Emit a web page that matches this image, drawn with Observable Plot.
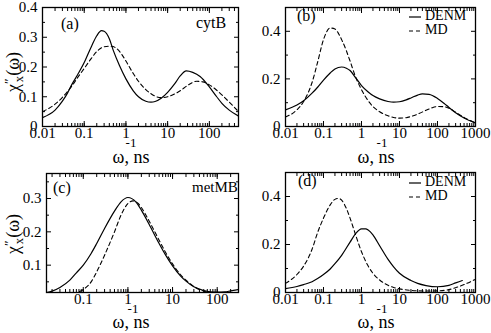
<!DOCTYPE html>
<html><head><meta charset="utf-8">
<script src="https://cdn.jsdelivr.net/npm/d3@7"></script>
<script src="https://cdn.jsdelivr.net/npm/@observablehq/plot@0.6"></script>
<style>
body{margin:0;background:#fff;}
#wrap{position:relative;width:491px;height:333px;font-family:"Liberation Serif","Times New Roman",serif;color:#000;overflow:hidden;}
.panel{position:absolute;}
.lbl{position:absolute;white-space:nowrap;line-height:1;}
</style></head><body><div id="wrap"></div>
<script>
// ---------- data ----------
// (a) cytB
const omegaA_DENM = [0.01,0.02,0.03,0.04,0.05,0.07,0.1,0.15,0.2,0.26,0.3,0.4,0.5,0.7,1,1.5,2,3,4,5,7,10,15,20,28,40,60,100,150,200,300,500];
const chiA_DENM   = [0.030,0.055,0.085,0.113,0.14,0.175,0.215,0.27,0.305,0.322,0.32,0.295,0.255,0.205,0.16,0.12,0.10,0.085,0.082,0.084,0.095,0.115,0.145,0.17,0.187,0.182,0.168,0.133,0.10,0.078,0.055,0.035];
const omegaA_MD   = [0.01,0.02,0.03,0.04,0.05,0.07,0.1,0.15,0.2,0.3,0.45,0.6,0.8,1,1.5,2,3,4,5,7,10,15,20,30,50,70,100,150,200,300,500];
const chiA_MD     = [0.05,0.075,0.098,0.118,0.135,0.165,0.195,0.23,0.252,0.268,0.27,0.262,0.242,0.22,0.178,0.152,0.124,0.11,0.102,0.097,0.10,0.11,0.12,0.138,0.152,0.15,0.14,0.122,0.106,0.082,0.05];
// (b)
const omegaB_DENM = [0.01,0.02,0.03,0.05,0.07,0.1,0.15,0.2,0.3,0.4,0.5,0.7,1,1.5,2,3,5,7,10,15,20,30,40,60,100,150,200,300,500,1000];
const chiB_DENM   = [0.07,0.09,0.108,0.14,0.165,0.195,0.225,0.242,0.25,0.245,0.235,0.205,0.172,0.145,0.13,0.116,0.105,0.102,0.104,0.112,0.12,0.132,0.137,0.135,0.118,0.097,0.08,0.058,0.036,0.015];
const omegaB_MD   = [0.01,0.02,0.03,0.05,0.07,0.1,0.15,0.2,0.25,0.3,0.4,0.5,0.7,1,1.5,2,3,5,7,10,15,20,30,50,70,100,150,200,300,500,1000];
const chiB_MD     = [0.04,0.07,0.105,0.185,0.27,0.365,0.414,0.41,0.39,0.365,0.318,0.275,0.208,0.155,0.108,0.084,0.062,0.045,0.038,0.035,0.037,0.042,0.052,0.068,0.078,0.084,0.083,0.077,0.06,0.038,0.015];
// (c) metMB
const omegaC_DENM = [0.015,0.02,0.03,0.05,0.07,0.1,0.15,0.2,0.3,0.5,0.7,1,1.5,2,3,5,7,10,15,20,30,50,70,100,150,200,300];
const chiC_DENM   = [0.018,0.022,0.033,0.055,0.077,0.10,0.135,0.165,0.21,0.262,0.29,0.303,0.29,0.265,0.222,0.165,0.13,0.098,0.068,0.052,0.035,0.024,0.02,0.019,0.02,0.023,0.027];
const omegaC_MD   = [0.02,0.05,0.08,0.1,0.15,0.2,0.3,0.5,0.7,1,1.3,1.7,2,3,5,7,10,15,20,30,50,70,100,150,200,300];
const chiC_MD     = [0.005,0.012,0.02,0.027,0.05,0.08,0.13,0.2,0.25,0.285,0.293,0.285,0.273,0.232,0.175,0.138,0.104,0.072,0.055,0.036,0.022,0.017,0.014,0.013,0.013,0.014];
// (d)
const omegaD_DENM = [0.01,0.02,0.03,0.05,0.07,0.1,0.15,0.2,0.3,0.5,0.7,1,1.3,1.5,2,3,5,7,10,20,30,50,100,200,300,450];
const chiD_DENM   = [0.016,0.025,0.033,0.045,0.058,0.075,0.098,0.12,0.155,0.21,0.245,0.265,0.265,0.26,0.24,0.195,0.138,0.107,0.08,0.05,0.038,0.029,0.024,0.03,0.04,0.05];
const omegaD_MD   = [0.01,0.02,0.03,0.05,0.07,0.1,0.15,0.2,0.25,0.3,0.4,0.5,0.7,1,1.5,2,3,5,7,10,20,50,100,200,300,500,1000];
const chiD_MD     = [0.038,0.075,0.11,0.18,0.25,0.31,0.365,0.388,0.392,0.385,0.35,0.31,0.24,0.17,0.11,0.08,0.052,0.03,0.021,0.015,0.009,0.006,0.007,0.012,0.02,0.033,0.055];

// ticks
const xTicksA = [0.01,0.1,1,10,100];          const xLabelsA = ["0.01","0.1","1","10","100"];
const xTicksB = [0.01,0.1,1,10,100,1000];     const xLabelsB = ["0.01","0.1","1","10","100","1000"];
const xTicksC = [0.1,1,10,100];               const xLabelsC = ["0.1","1","10","100"];
const yTicksA = [0,0.1,0.2,0.3,0.4];          const yLabelsA = ["0","0.1","0.2","0.3","0.4"];
const yMinorA = [0.05,0.15,0.25,0.35];
const yTicksB = [0,0.2,0.4];                  const yLabelsB = ["0","0.2","0.4"];
const yMinorB = [0.1,0.3];
const yTicksC = [0.1,0.2,0.3];                const yLabelsC = ["0.1","0.2","0.3"];
const yMinorC = [0.05,0.15,0.25,0.35];
const seriesNames = ["DENM","MD"];

const rows = (w, c) => w.map((v, i) => ({w: v, chi: c[i]}));

// inward tick marks (no text), shifted into the frame by their own length
function tk(anchor, ticks, size) {
  const opts = {anchor, tickSize: size, fill: "none", label: null, strokeWidth: 1};
  if (anchor === "bottom") opts.dy = -size;
  if (anchor === "top") opts.dy = size;
  if (anchor === "left") opts.dx = size;
  if (anchor === "right") opts.dx = -size;
  const isX = anchor === "bottom" || anchor === "top";
  if (Array.isArray(ticks)) return isX ? Plot.axisX(ticks, opts) : Plot.axisY(ticks, opts);
  opts.ticks = ticks;
  return isX ? Plot.axisX(opts) : Plot.axisY(opts);
}

function panel(o) {
  const fmtX = d => o.xLabels[o.xTicks.indexOf(d)];
  const fmtY = d => o.yLabels[o.yTicks.indexOf(d)];
  return Plot.plot({
    width: o.width, height: o.height,
    marginLeft: o.ml, marginRight: o.mr, marginTop: o.mt, marginBottom: o.mb,
    x: {type: "log", domain: o.xDomain},
    y: {domain: o.yDomain},
    style: {fontFamily: '"Liberation Serif", "Times New Roman", serif', fontSize: "15px", background: "transparent", overflow: "visible", color: "black"},
    marks: [
      Plot.lineY(rows(o.wD, o.cD), {x: "w", y: "chi", stroke: "black", strokeWidth: 1.2, curve: "monotone-x", clip: true}),
      Plot.lineY(rows(o.wM, o.cM), {x: "w", y: "chi", stroke: "black", strokeWidth: 1.1, strokeDasharray: "4,3", curve: "monotone-x", clip: true}),
      Plot.frame({stroke: "black", strokeWidth: 1.3}),
      tk("bottom", o.xTicks, 5), tk("top", o.xTicks, 5),
      tk("bottom", 40, 3), tk("top", 40, 3),
      tk("left", o.yTicks, 5), tk("right", o.yTicks, 5),
      tk("left", o.yMinor, 3), tk("right", o.yMinor, 3),
      Plot.axisX(o.xTicks, {anchor: "bottom", tickSize: 0, tickPadding: 1, tickFormat: fmtX, label: null, fontSize: 15}),
      Plot.axisY(o.yTicks, {anchor: "left", tickSize: 0, tickPadding: 5, tickFormat: fmtY, label: null, fontSize: 15})
    ]
  });
}

const wrap = document.getElementById("wrap");
function place(node, left, top) {
  node.classList.add("panel");
  node.style.left = left + "px"; node.style.top = top + "px";
  wrap.appendChild(node);
}
function label(html, left, top, size, extra) {
  const d = document.createElement("div");
  d.className = "lbl";
  d.innerHTML = html;
  d.style.left = left + "px"; d.style.top = top + "px"; d.style.fontSize = size + "px";
  if (extra) Object.assign(d.style, extra);
  wrap.appendChild(d);
  return d;
}

place(panel({width: 245, height: 165, ml: 42, mr: 7, mt: 7, mb: 39,
  xDomain: [0.01, 500], yDomain: [0, 0.4],
  xTicks: xTicksA, xLabels: xLabelsA, yTicks: yTicksA, yLabels: yLabelsA, yMinor: yMinorA,
  wD: omegaA_DENM, cD: chiA_DENM, wM: omegaA_MD, cM: chiA_MD}), 0, 0);
place(panel({width: 246, height: 165, ml: 40, mr: 16, mt: 7, mb: 39,
  xDomain: [0.01, 1000], yDomain: [0, 0.5],
  xTicks: xTicksB, xLabels: xLabelsB, yTicks: yTicksB, yLabels: yLabelsB, yMinor: yMinorB,
  wD: omegaB_DENM, cD: chiB_DENM, wM: omegaB_MD, cM: chiB_MD}), 245, 0);
place(panel({width: 245, height: 168, ml: 46, mr: 7, mt: 8, mb: 41,
  xDomain: [0.015, 300], yDomain: [0.018, 0.375],
  xTicks: xTicksC, xLabels: xLabelsC, yTicks: yTicksC, yLabels: yLabelsC, yMinor: yMinorC,
  wD: omegaC_DENM, cD: chiC_DENM, wM: omegaC_MD, cM: chiC_MD}), 0, 165);
place(panel({width: 246, height: 168, ml: 40, mr: 16, mt: 7, mb: 41,
  xDomain: [0.01, 1000], yDomain: [0, 0.5],
  xTicks: xTicksB, xLabels: xLabelsB, yTicks: yTicksB, yLabels: yLabelsB, yMinor: yMinorB,
  wD: omegaD_DENM, cD: chiD_DENM, wM: omegaD_MD, cM: chiD_MD}), 245, 165);

// panel tags
label("(a)", 61, 16, 16);
label("cytB", 196, 15, 16);
label("(b)", 297, 8, 16);
label("(c)", 53, 180, 16);
label("metMB", 192, 180, 15);
label("(d)", 298, 173, 16);

// legends
function legend(x, y) {
  seriesNames.forEach((name, i) => {
    const dash = i === 0 ? "" : 'stroke-dasharray="4,3"';
    label(`<svg width="12" height="10" style="vertical-align:middle;margin-right:4px"><line x1="0" y1="5" x2="12" y2="5" stroke="black" stroke-width="1.2" ${dash}/></svg>${name}`,
      x, y + i * 14, 14);
  });
}
legend(409, 9);
legend(409, 175);

// axis titles
const ylab = 'χ<span style="position:relative;top:-0.45em;font-size:0.75em">″</span><span style="position:relative;top:0.3em;margin-left:-0.3em;font-size:0.7em">x</span>(ω)';
label(ylab, 13, 72, 18, {transform: "translate(-50%,-50%) rotate(-90deg)"});
label(ylab, 13, 234, 18, {transform: "translate(-50%,-50%) rotate(-90deg)"});
const xlab = (cx, cy, sx, sy) => {
  label("ω, ns", cx, cy, 18, {transform: "translate(-50%,-50%)"});
  label("-1", sx, sy, 13, {transform: "translate(-50%,-50%)"});
};
xlab(131, 157, 131, 142);
xlab(376, 157, 382, 142);
xlab(131, 322, 133, 308);
xlab(376, 322, 382, 308);
</script></body></html>
